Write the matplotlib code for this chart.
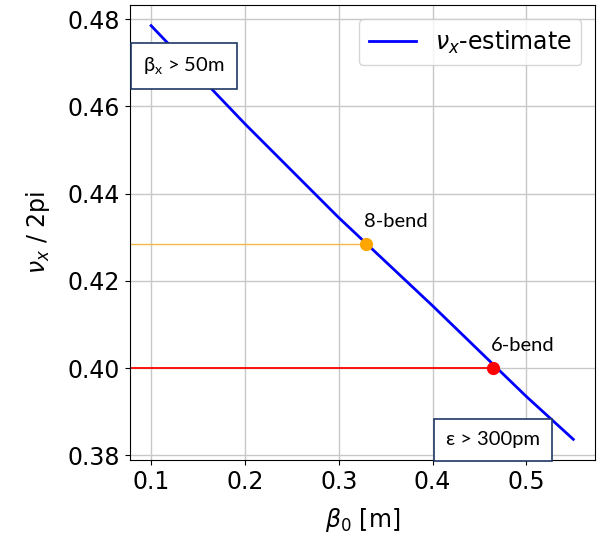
import matplotlib.pyplot as plt

# datos
beta0 = [0.10, 0.20, 0.30, 0.40, 0.50, 0.55]
nu_x = [0.4785, 0.4560, 0.4345, 0.4143, 0.3935, 0.3837]

# puntos de trabajo
bend_labels = ["8-bend", "6-bend"]
bend_beta = [0.3294, 0.4647]
bend_nu = [0.4284, 0.4000]
bend_colors = ["orange", "red"]
hline_colors = ["#f2b84b", "red"]
hline_widths = [1.0, 1.3]

fig = plt.figure(figsize=(6.08, 5.35), dpi=100)
ax = fig.add_axes([0.2138, 0.1402, 0.7656, 0.8505])

ax.plot(beta0, nu_x, color="blue", lw=2, label=r"$\nu_x$-estimate")
ax.grid(True, color="#c8c8c8", lw=1)
xmin = ax.get_xlim()[0]

for lab, b, n, c, hc, hw in zip(bend_labels, bend_beta, bend_nu, bend_colors,
                                hline_colors, hline_widths):
    ax.hlines(n, xmin, b, color=hc, lw=hw, zorder=2)
    ax.plot(b, n, "o", color=c, markersize=8.5, zorder=3)
    ax.annotate(lab, (b, n), xytext=(-2, 10), textcoords="offset points",
                fontsize=14.5, family="Lato", ha="left", va="bottom")
ax.set_xlim(xmin, ax.get_xlim()[1])

ax.set_xticks([0.1, 0.2, 0.3, 0.4, 0.5])
ax.set_yticks([0.38, 0.40, 0.42, 0.44, 0.46, 0.48])
ax.tick_params(labelsize=17)
ax.set_xlabel(r"$\beta_0$ [m]", fontsize=17, labelpad=9)
ax.set_ylabel(r"$\nu_x$ / 2pi", fontsize=17, labelpad=11)
ax.legend(loc="upper right", fontsize=17, borderaxespad=0.6)

# cuadros agregados encima del grafico
box = dict(boxstyle="square,pad=0.6", fc="white", ec="#1f3864", lw=1.2)
fig.text(184 / 608, 1 - 66 / 535, r"β$_\mathregular{x}$ > 50m", fontsize=14.5, family="Lato",
         ha="center", va="center", bbox=box)
fig.text(493 / 608, 1 - 440 / 535, "ε > 300pm", fontsize=14.5, family="Lato",
         ha="center", va="center", bbox=box)

fig.savefig("out.png", dpi=100)
